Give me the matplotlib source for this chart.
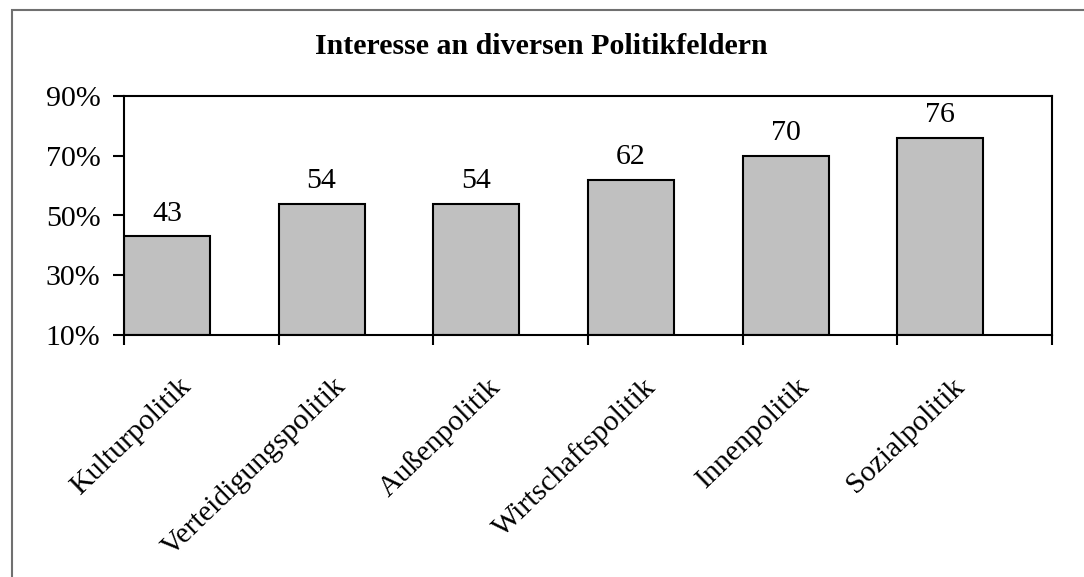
import matplotlib.pyplot as plt
from matplotlib.patches import Rectangle
from matplotlib.ticker import FuncFormatter

categories = [
    "Kulturpolitik",
    "Verteidigungspolitik",
    "Außenpolitik",
    "Wirtschaftspolitik",
    "Innenpolitik",
    "Sozialpolitik",
]
values = [43, 54, 54, 62, 70, 76]
y_ticks = [10, 30, 50, 70, 90]
title = "Interesse an diversen Politikfeldern"

plt.rcParams["font.family"] = ["Liberation Serif", "DejaVu Serif"]

W, H = 1084, 577
fig = plt.figure(figsize=(W / 100, H / 100), dpi=100)

# outer chart frame (cut off on the right and at the bottom)
fig.patches.append(
    Rectangle((12 / W, -0.1), 1.2, (H - 10) / H + 0.1, transform=fig.transFigure,
              fill=False, edgecolor="#707070", linewidth=1.5)
)

ax = fig.add_axes([124 / W, (H - 335) / H, (1052 - 124) / W, (335 - 96) / H])

n = len(categories)
x = list(range(n))
bar_w = 0.555
ax.bar(x, [v - 10 for v in values], bottom=10, width=bar_w, align="edge",
       color="#C0C0C0", edgecolor="black", linewidth=1.5)

for xi, v in zip(x, values):
    ax.annotate(str(v), (xi + bar_w / 2, v), xytext=(0, 7), textcoords="offset points",
                ha="center", va="bottom", fontsize=21.5)

ax.set_xlim(0, n)
ax.set_ylim(10, 90)
ax.set_yticks(y_ticks)
ax.yaxis.set_major_formatter(FuncFormatter(lambda v, p: f"{v:.0f}%"))
ax.tick_params(axis="y", direction="out", length=8, width=1.5, pad=9, labelsize=21.5)

# ticks at category boundaries, labels near category centres
ax.set_xticks(range(n + 1))
ax.set_xticklabels([])
ax.tick_params(axis="x", which="major", direction="out", length=7.5, width=1.5)
ax.set_xticks([i + 0.35 for i in x], minor=True)
ax.set_xticklabels(categories, minor=True)
ax.tick_params(axis="x", which="minor", length=0, pad=27.5, labelsize=21.5)
for lbl in ax.get_xticklabels(minor=True):
    lbl.set_rotation(44)
    lbl.set_ha("right")
    lbl.set_va("top")
    lbl.set_rotation_mode("anchor")

for side in ["left", "bottom", "top", "right"]:
    ax.spines[side].set_linewidth(1.5)
    ax.spines[side].set_color("black")

fig.text(541 / W, (H - 46) / H, title, ha="center", va="center",
         fontsize=21.5, fontweight="bold")

fig.savefig("out.png", dpi=100)
